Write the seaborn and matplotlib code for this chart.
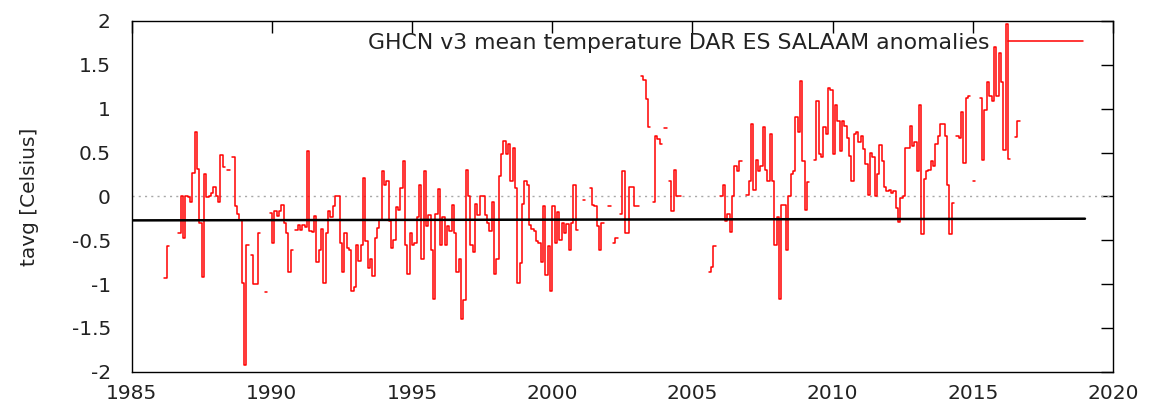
import numpy as np
import pandas as pd
import matplotlib
matplotlib.use("Agg")
import matplotlib.pyplot as plt
from matplotlib.lines import Line2D
import seaborn as sns

nan = np.nan
# Monthly anomalies (deg C), month index 0 = Jan 1986, plotted at year + month/12
start_year = 1986
anom_1986_1995 = [
    nan, -0.93, -0.57, nan, nan, nan, nan, -0.42, 0.0, -0.47, 0.0, -0.01,
    -0.06, 0.27, 0.73, 0.31, -0.3, -0.92, 0.25, -0.01, 0.0, 0.04, 0.11, 0.0,
    -0.06, 0.47, 0.34, nan, 0.3, nan, 0.45, -0.11, -0.2, -0.27, -0.99, -1.92,
    -0.55, nan, -0.67, -1.0, -1.0, -0.42, nan, nan, -1.09, nan, -0.19, -0.53,
    -0.17, -0.22, -0.17, -0.1, -0.3, -0.42, -0.86, -0.61, nan, -0.38, -0.33, -0.38,
    -0.33, -0.35, 0.52, -0.4, -0.41, -0.22, -0.75, -0.61, -0.37, -0.99, -0.42, -0.17,
    -0.23, -0.11, 0.0, 0.0, -0.53, -0.86, -0.42, -0.59, -0.61, -1.08, -1.03, -0.56,
    -0.74, -0.55, 0.21, -0.51, -0.82, -0.72, -0.91, -0.47, -0.36, -0.27, 0.29, 0.13,
    0.17, -0.28, -0.59, -0.5, -0.12, -0.15, 0.1, 0.4, -0.56, -0.88, -0.42, -0.55,
    -0.53, -0.23, 0.13, -0.72, 0.29, -0.34, -0.21, -0.61, -1.17, -0.2, 0.08, -0.55,
]
anom_1996_2005 = [
    -0.23, -0.55, -0.34, -0.4, -0.1, -0.42, -0.86, -0.72, -1.4, -1.18, 0.3, 0.0,
    -0.55, -0.64, -0.09, -0.21, 0.0, 0.0, -0.21, -0.3, -0.39, -0.07, -0.89, -0.72,
    0.23, 0.48, 0.63, 0.48, 0.6, 0.17, 0.55, 0.1, -0.99, -0.76, -0.09, 0.18,
    0.13, -0.33, -0.37, -0.39, -0.51, -0.53, -0.75, -0.11, -0.9, -0.57, -1.08, -0.11,
    -0.53, -0.18, -0.5, -0.3, -0.42, -0.31, -0.61, -0.3, 0.13, -0.38, nan, nan,
    -0.04, nan, nan, 0.1, -0.1, -0.11, -0.34, -0.61, -0.3, nan, nan, -0.11,
    nan, -0.53, -0.47, nan, -0.2, 0.29, -0.42, -0.42, 0.11, 0.11, -0.11, -0.11,
    nan, 1.37, 1.33, 1.11, 0.79, nan, -0.06, 0.69, 0.65, 0.6, nan, 0.78,
    nan, 0.17, -0.17, 0.3, 0.0, 0.0, nan, nan, nan, nan, nan, nan,
    nan, nan, nan, nan, nan, nan, -0.86, -0.81, -0.57, nan, nan, 0.0,
]
anom_2006_2016 = [
    0.13, -0.28, -0.2, -0.41, 0.0, 0.35, 0.29, 0.4, nan, nan, 0.01, 0.18,
    0.83, 0.07, 0.41, 0.29, 0.35, 0.79, 0.3, 0.18, 0.71, 0.18, -0.55, -0.23,
    -1.17, -0.1, -0.1, -0.61, 0.0, 0.26, 0.29, 0.9, 0.73, 1.31, 0.4, -0.16,
    0.16, nan, nan, 0.41, 1.09, 0.48, 0.45, 0.79, 0.71, 1.24, 1.21, 0.48,
    1.04, 0.86, 0.52, 0.86, 0.8, 0.67, 0.46, 0.18, 0.71, 0.73, 0.62, 0.69,
    0.54, 0.37, 0.02, 0.5, 0.45, 0.0, 0.26, 0.58, 0.4, 0.11, 0.06, 0.07,
    0.04, 0.06, -0.13, -0.29, -0.02, 0.0, 0.55, 0.55, 0.8, 0.57, 0.62, 0.29,
    1.04, -0.43, 0.2, 0.29, 0.3, 0.4, 0.35, 0.6, 0.69, 0.83, 0.82, 0.69,
    0.13, -0.43, -0.08, nan, 0.69, 0.67, 0.96, 0.38, 1.12, 1.14, nan, 0.18,
    nan, nan, 1.12, 0.41, 0.99, 1.3, 1.14, 1.09, 1.7, 1.14, 1.63, 1.3,
    0.53, 1.97, 0.43, nan, nan, 0.68, 0.86,
]
trend_years = [1985.0, 2019.0]
trend_values = [-0.274, -0.255]

x_ticks = [1985, 1990, 1995, 2000, 2005, 2010, 2015, 2020]
y_ticks = [-2, -1.5, -1, -0.5, 0, 0.5, 1, 1.5, 2]
y_tick_labels = ["-2", "-1.5", "-1", "-0.5", "0", "0.5", "1", "1.5", "2"]
title_text = "GHCN v3 mean temperature DAR ES SALAAM anomalies"
y_label = "tavg [Celsius]"

# ---- build step runs (each run gets an end point one month after its last value)
vals = np.array(anom_1986_1995 + anom_1996_2005 + anom_2006_2016, dtype=float)
times = start_year + (np.arange(len(vals)) + 1) / 12.0
rows = []
run = 0
prev_valid = False
for i, v in enumerate(vals):
    if np.isnan(v):
        if prev_valid:
            rows.append((times[i - 1] + 1 / 12.0, vals[i - 1], run))
            run += 1
        prev_valid = False
        continue
    rows.append((times[i], v, run))
    prev_valid = True
if prev_valid:
    rows.append((times[-1] + 1 / 12.0, vals[-1], run))
df = pd.DataFrame(rows, columns=["year", "anom", "run"])

sns.set_style("white")
plt.rcParams["font.family"] = ["DejaVu Sans"]
fs = 14.5
text_color = "#222222"

fig = plt.figure(figsize=(11.51, 4.08), dpi=100)
ax = fig.add_axes([131.7 / 1151, 1 - 371.7 / 408, (1113 - 131.7) / 1151, (371.7 - 21) / 408])

ax.axhline(0, color="#a8a8a8", lw=1.0, ls=(0, (1.5, 3)), zorder=1)
sns.lineplot(data=df, x="year", y="anom", units="run", estimator=None,
             drawstyle="steps-post", color="#ff0000", lw=1.1, ax=ax, zorder=3)
trend_df = pd.DataFrame({"year": trend_years, "val": trend_values})
sns.lineplot(data=trend_df, x="year", y="val", color="black", lw=1.8, ax=ax, zorder=4)

ax.set_xlim(1985, 2020)
ax.set_ylim(-2, 2)
ax.set_xticks(x_ticks)
ax.set_xticklabels([str(t) for t in x_ticks])
ax.set_yticks(y_ticks)
ax.set_yticklabels(y_tick_labels)
ax.set_xlabel("")
ax.set_ylabel(y_label, fontsize=fs, color=text_color)
ax.yaxis.set_label_coords(-0.094, 0.5)

ax.tick_params(axis="both", direction="in", length=8.5, width=1, color="black",
               top=True, right=True, labelsize=fs, labelcolor=text_color)
ax.tick_params(axis="y", pad=15)
ax.tick_params(axis="x", pad=9)
for s in ax.spines.values():
    s.set_visible(True)
    s.set_color("black")
    s.set_linewidth(1.0)

handle = Line2D([], [], color="#ff0000", lw=1.1)
leg = ax.legend([handle], [title_text], loc="center right",
                bbox_to_anchor=((1083 - 131.7) / 981.3, (371.7 - 43) / 350.7),
                frameon=False, markerfirst=False, fontsize=15.8, borderpad=0,
                borderaxespad=0, handlelength=3.4, handletextpad=0.85)
for t in leg.get_texts():
    t.set_color(text_color)

fig.savefig("out.png", dpi=100)
